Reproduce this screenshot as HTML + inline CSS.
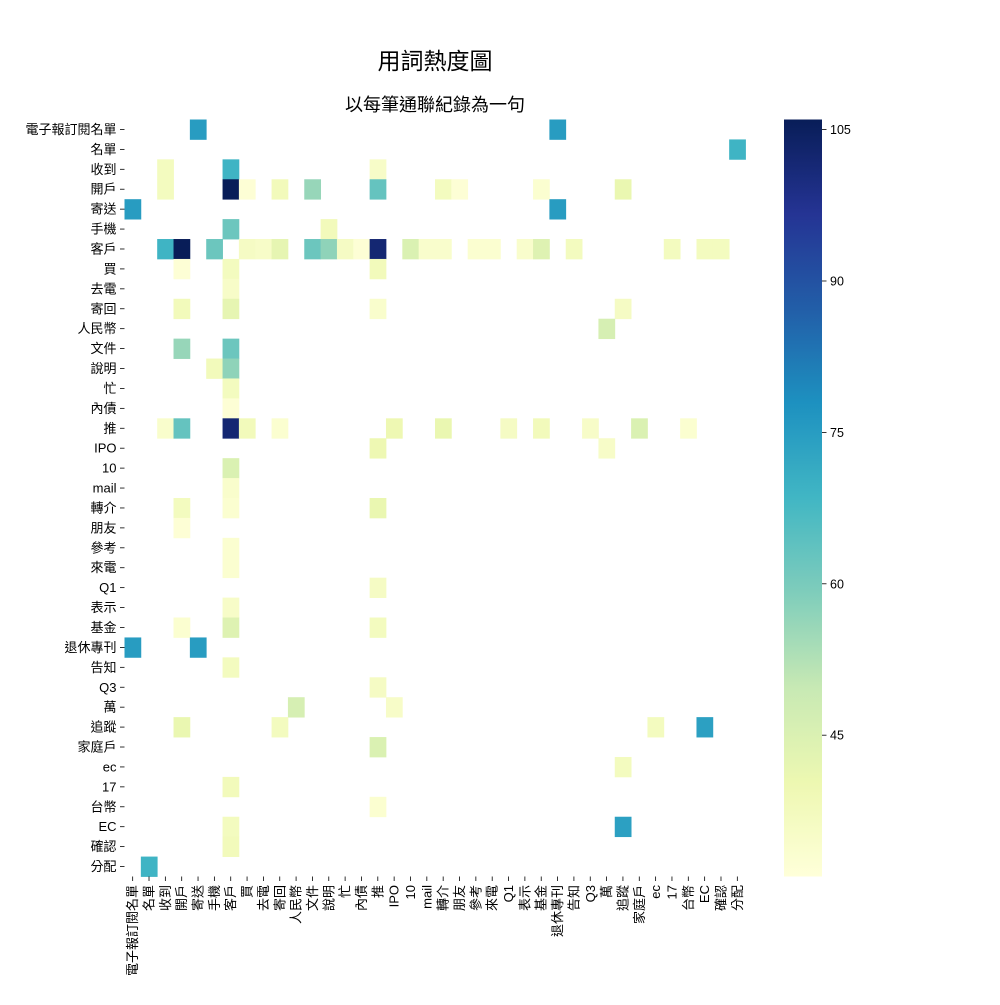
<!DOCTYPE html>
<html><head><meta charset="utf-8"><style>
body{margin:0;background:#fff;}
svg text{font-family:"Liberation Sans","Noto Sans CJK TC","Noto Sans CJK SC",sans-serif;fill:#000;}
</style></head><body>
<svg id="chart" width="1000" height="1000" xmlns="http://www.w3.org/2000/svg">
<rect width="1000" height="1000" fill="#fff"/>
<text x="435" y="69" font-size="23" text-anchor="middle">用詞熱度圖</text>
<text x="435" y="111" font-size="18" text-anchor="middle">以每筆通聯紀錄為一句</text>
<g id="cells"></g>
<g id="yaxis"></g>
<g id="xaxis"></g>
<defs><linearGradient id="cbgrad" x1="0" y1="1" x2="0" y2="0"></linearGradient></defs>
<rect x="784" y="119.5" width="38" height="757" fill="url(#cbgrad)"/>
<g id="cbticks"></g>
</svg>
<script>
const labels = ["電子報訂閱名單","名單","收到","開戶","寄送","手機","客戶","買","去電","寄回","人民幣","文件","說明","忙","內債","推","IPO","10","mail","轉介","朋友","參考","來電","Q1","表示","基金","退休專刊","告知","Q3","萬","追蹤","家庭戶","ec","17","台幣","EC","確認","分配"];
const cellRows = [0,0,1,2,2,2,3,3,3,3,3,3,3,3,3,3,4,4,5,5,6,6,6,6,6,6,6,6,6,6,6,6,6,6,6,6,6,6,6,6,6,6,7,7,7,8,9,9,9,9,10,11,11,12,12,13,14,15,15,15,15,15,15,15,15,15,15,15,15,16,16,17,18,19,19,19,20,21,22,23,24,25,25,25,26,26,27,28,29,29,30,30,30,30,31,32,33,34,35,35,36,37];
const cellCols = [4,26,37,2,6,15,2,6,7,9,11,15,19,20,25,30,0,26,6,12,2,3,5,7,8,9,11,12,13,14,15,17,18,19,21,22,24,25,27,33,35,36,3,6,15,6,3,6,15,30,29,3,6,5,6,6,6,2,3,6,7,9,16,19,23,25,28,31,34,15,29,6,6,3,6,15,3,6,6,15,6,3,6,15,0,4,6,15,10,16,3,9,32,35,15,30,6,15,6,30,6,1];
const cellValues = [75,75,69,37,69,35,37,106,32,38,56,63,37,32,33,41,75,75,62,38,69,106,62,36,35,42,62,57,36,32,102,45,34,34,33,33,34,44,37,37,37,37,32,37,38,35,38,42,34,36,46,56,62,38,57,37,32,34,63,102,38,33,40,41,36,38,35,45,33,40,35,45,34,37,33,41,32,33,33,36,35,33,44,37,75,75,37,36,46,35,41,37,37,74,45,37,38,33,37,74,38,69];
const cbTicks = [45,60,75,90,105];

const vmin = 31, vmax = 106;
const plotLeft = 124.5, plotTop = 119.5, cw = 621/38, ch = 757/38;
const stops = ["#ffffd9","#edf8b1","#c7e9b4","#7fcdbb","#41b6c4","#1d91c0","#225ea8","#253494","#081d58"];
function hex(h){return [1,3,5].map(i=>parseInt(h.substr(i,2),16));}
function cmap(v){
  let t=Math.max(0,Math.min(1,(v-vmin)/(vmax-vmin)))*8;
  let i=Math.min(7,Math.floor(t)), f=t-i;
  const a=hex(stops[i]), b=hex(stops[i+1]);
  return "rgb("+a.map((x,k)=>Math.round(x+(b[k]-x)*f)).join(",")+")";
}
const xPos = i => plotLeft + i*cw;
const yPos = i => plotTop + i*ch;
const yVal = v => plotTop + 757*(vmax-v)/(vmax-vmin);
const NS="http://www.w3.org/2000/svg";
const cellsG=document.getElementById('cells');
for(let k=0;k<cellValues.length;k++){
  const r=document.createElementNS(NS,'rect');
  
  
  r.setAttribute('x',xPos(cellCols[k]));r.setAttribute('y',yPos(cellRows[k]));
  r.setAttribute('width',cw+0.4);r.setAttribute('height',ch+0.4);
  r.setAttribute('fill',cmap(cellValues[k]));
  cellsG.appendChild(r);
}
const ya=document.getElementById('yaxis'), xa=document.getElementById('xaxis');
labels.forEach((lab,i)=>{
  const cy=yPos(i)+ch/2;
  const tk=document.createElementNS(NS,'line');
  
  
  tk.setAttribute('x1',plotLeft-4.5);tk.setAttribute('x2',plotLeft);tk.setAttribute('y1',cy);tk.setAttribute('y2',cy);tk.setAttribute('stroke','#000');tk.setAttribute('stroke-width','0.8');
  ya.appendChild(tk);
  const t=document.createElementNS(NS,'text');
  
  
  t.setAttribute('x',plotLeft-8);t.setAttribute('y',cy+4.5);t.setAttribute('font-size','13');t.setAttribute('text-anchor','end');
  t.textContent=lab; ya.appendChild(t);
  const cx=xPos(i)+cw/2;
  const tx=document.createElementNS(NS,'line');
  
  
  tx.setAttribute('x1',cx);tx.setAttribute('x2',cx);tx.setAttribute('y1',876.5);tx.setAttribute('y2',881);tx.setAttribute('stroke','#000');tx.setAttribute('stroke-width','0.8');
  xa.appendChild(tx);
  const u=document.createElementNS(NS,'text');
  
  
  u.setAttribute('x',cx+4.5);u.setAttribute('y',885);u.setAttribute('font-size','13');u.setAttribute('text-anchor','end');
  u.setAttribute('transform','rotate(-90 '+(cx+4.5)+' 885)');
  u.textContent=lab; xa.appendChild(u);
});
const g=document.getElementById('cbgrad');
for(let i=0;i<=40;i++){
  const s=document.createElementNS(NS,'stop');
  s.setAttribute('offset',(i/40));
  s.setAttribute('stop-color',cmap(vmin+(vmax-vmin)*i/40));
  g.appendChild(s);
}
const cbt=document.getElementById('cbticks');
cbTicks.forEach(v=>{
  const y=yVal(v);
  const l=document.createElementNS(NS,'line');
  
  
  l.setAttribute('x1',822);l.setAttribute('x2',826.5);l.setAttribute('y1',y);l.setAttribute('y2',y);l.setAttribute('stroke','#000');l.setAttribute('stroke-width','0.8');
  cbt.appendChild(l);
  const t=document.createElementNS(NS,'text');
  
  
  t.setAttribute('x',830);t.setAttribute('y',y+4.5);t.setAttribute('font-size','12.5');
  t.textContent=v; cbt.appendChild(t);
});
</script>
</body></html>
